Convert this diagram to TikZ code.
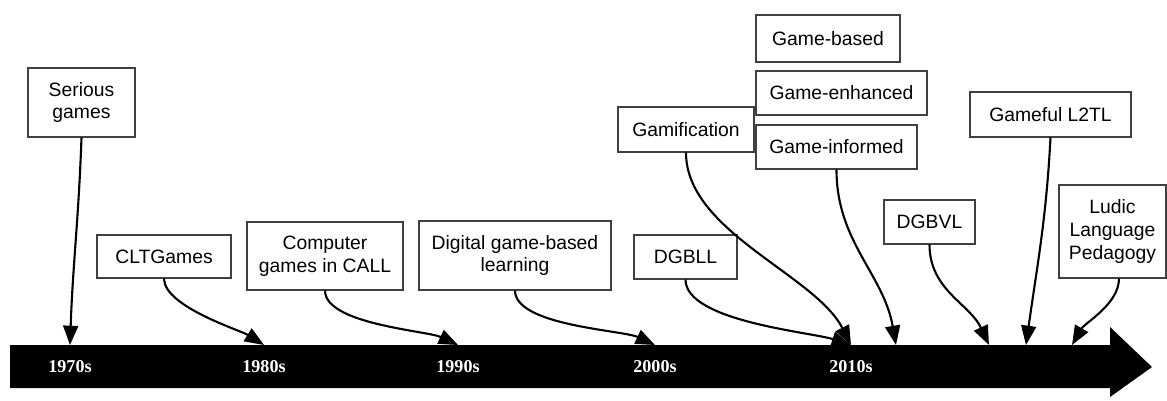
\documentclass[tikz,border=0pt]{standalone}
\usepackage{fontspec}
\setmainfont{Liberation Sans}
\newfontfamily\yearfont{Liberation Serif}
\usetikzlibrary{arrows.meta}
\begin{document}
\begin{tikzpicture}[x=0.02cm,y=-0.02cm,
  box/.style={draw=black!75,line width=0.6pt,fill=white,align=center,inner sep=2pt,
    font=\fontsize{11}{13}\selectfont},
  conn/.style={line width=1.2pt,-{Triangle[length=11pt,width=8.5pt]}},
  year/.style={text=white,font=\yearfont\bfseries\fontsize{10.3}{12}\selectfont}]
\useasboundingbox (0,0) rectangle (1167,400);
% timeline bar
\fill[black] (10,345) -- (1110,345) -- (1110,327) -- (1152,367) -- (1110,397) -- (1110,388) -- (10,388) -- cycle;
\coordinate (t70) at (70,345);
\coordinate (t80) at (264,345);
\coordinate (t90) at (458,345);
\coordinate (t00) at (655,345);
\coordinate (t10) at (851,345);
\coordinate (tgi) at (896,345);
\coordinate (tdv) at (989,345);
\coordinate (tgf) at (1026,345);
\coordinate (tlu) at (1072,345);
\node[year] (y70) at (70,367) {1970s};
\node[year] (y80) at (264,367) {1980s};
\node[year] (y90) at (458,367) {1990s};
\node[year] (y00) at (655,367) {2000s};
\node[year] (y10) at (851,367) {2010s};
% boxes
\node[box,minimum width=2.14cm,minimum height=1.38cm] (serious) at (81.5,102.5) {Serious\\games};
\node[box,minimum width=2.68cm,minimum height=0.86cm] (clt) at (164,256.5) {CLTGames};
\node[box,minimum width=3.12cm,minimum height=1.36cm] (cgc) at (325,256) {Computer\\games in CALL};
\node[box,minimum width=3.84cm,minimum height=1.38cm] (dgbl) at (515,255.5) {Digital game-based\\learning};
\node[box,minimum width=2.06cm,minimum height=0.88cm] (dgbll) at (685.5,257) {DGBLL};
\node[box,minimum width=2.72cm,minimum height=0.90cm] (gamif) at (686,129.5) {Gamification};
\node[box,minimum width=2.88cm,minimum height=0.94cm] (gbased) at (828,38.5) {Game-based};
\node[box,minimum width=3.42cm,minimum height=0.88cm] (genh) at (841.5,93) {Game-enhanced};
\node[box,minimum width=3.22cm,minimum height=0.88cm] (ginf) at (836.5,147) {Game-informed};
\node[box,minimum width=3.22cm,minimum height=0.90cm] (gameful) at (1050.5,114.5) {Gameful L2TL};
\node[box,minimum width=1.82cm,minimum height=0.88cm] (dgbvl) at (929.5,222) {DGBVL};
\node[box,minimum width=2.14cm,minimum height=1.86cm] (ludic) at (1112.5,231.5) {Ludic\\Language\\Pedagogy};
% connectors
\draw[conn] (serious.south) to[out=-92,in=88] (t70);
\draw[conn] (clt.south) to[out=-90,in=148,looseness=0.6] (t80);
\draw[conn] (cgc.south) to[out=-90,in=155,looseness=0.6] (t90);
\draw[conn] (dgbl.south) to[out=-90,in=155,looseness=0.6] (t00);
\draw[conn] (dgbll.south) to[out=-90,in=162,looseness=0.6] (t10);
\draw[conn] (gamif.south) to[out=-90,in=117,looseness=0.8] (t10);
\draw[conn] (ginf.south) to[out=-90,in=100] (tgi);
\draw[conn] (dgbvl.south) to[out=-90,in=115] (tdv);
\draw[conn] (gameful.south) to[out=-93,in=82] (tgf);
\draw[conn] ([xshift=0.13cm]ludic.south) to[out=-90,in=60,looseness=0.8] (tlu);
\end{tikzpicture}
\end{document}
